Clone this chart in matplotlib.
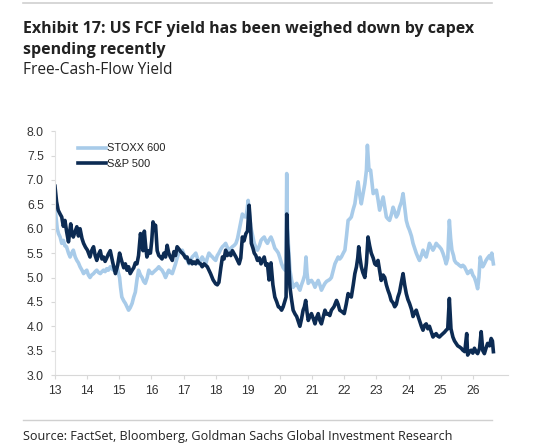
import numpy as np
import matplotlib.pyplot as plt

# S&P 500 free-cash-flow yield (years as 13 = 2013)
sp_years = [13.00, 13.05, 13.10, 13.16, 13.21, 13.26, 13.31, 13.36, 13.42, 13.49, 13.53, 13.57, 13.63, 13.68,
            13.73, 13.78, 13.84, 13.89, 13.95, 14.01, 14.09, 14.14, 14.20, 14.25, 14.30, 14.36, 14.41, 14.46,
            14.51, 14.56, 14.61, 14.66, 14.72, 14.80, 14.88, 14.95, 15.01, 15.07, 15.14, 15.19, 15.24, 15.29,
            15.34, 15.40, 15.45, 15.50, 15.55, 15.60, 15.66, 15.70, 15.74, 15.78, 15.82, 15.86, 15.92, 15.97,
            16.01, 16.05, 16.09, 16.13, 16.18, 16.23, 16.28, 16.33, 16.39, 16.44, 16.49, 16.54, 16.59, 16.65,
            16.70, 16.75, 16.80, 16.86, 16.91, 16.96, 17.01, 17.06, 17.11, 17.17, 17.22, 17.27, 17.32, 17.38,
            17.43, 17.48, 17.53, 17.58, 17.64, 17.69, 17.74, 17.79, 17.84, 17.92, 18.00, 18.05, 18.10, 18.16,
            18.21, 18.26, 18.31, 18.36, 18.42, 18.47, 18.52, 18.58, 18.63, 18.68, 18.73, 18.78, 18.83, 18.88,
            18.94, 18.99, 19.04, 19.08, 19.11, 19.16, 19.20, 19.25, 19.30, 19.36, 19.41, 19.46, 19.51, 19.56,
            19.61, 19.66, 19.72, 19.78, 19.84, 19.90, 19.95, 20.00, 20.05, 20.10, 20.16, 20.19, 20.21, 20.24,
            20.26, 20.31, 20.36, 20.41, 20.47, 20.52, 20.57, 20.62, 20.67, 20.72, 20.76, 20.80, 20.84, 20.88,
            20.93, 20.98, 21.04, 21.09, 21.14, 21.19, 21.24, 21.29, 21.35, 21.40, 21.45, 21.50, 21.55, 21.60,
            21.68, 21.76, 21.81, 21.86, 21.93, 22.00, 22.06, 22.12, 22.17, 22.22, 22.28, 22.33, 22.38, 22.42,
            22.45, 22.49, 22.53, 22.58, 22.64, 22.69, 22.74, 22.79, 22.84, 22.90, 22.95, 23.00, 23.05, 23.10,
            23.15, 23.21, 23.26, 23.31, 23.36, 23.41, 23.46, 23.52, 23.57, 23.62, 23.67, 23.72, 23.77, 23.83,
            23.88, 23.93, 23.98, 24.03, 24.09, 24.14, 24.19, 24.24, 24.29, 24.34, 24.40, 24.45, 24.50, 24.55,
            24.60, 24.65, 24.71, 24.76, 24.81, 24.86, 24.91, 24.96, 25.02, 25.07, 25.12, 25.17, 25.22, 25.27,
            25.32, 25.38, 25.43, 25.48, 25.53, 25.58, 25.64, 25.69, 25.75, 25.81, 25.84, 25.90, 25.95, 26.00,
            26.05, 26.10, 26.15, 26.21, 26.26, 26.31, 26.36, 26.41, 26.46, 26.52, 26.57, 26.61, 26.64]
sp_vals = [6.87, 6.55, 6.38, 6.30, 6.24, 6.05, 6.17, 5.95, 5.73, 6.10, 5.90, 5.83, 5.95, 6.04,
           5.85, 6.00, 5.80, 5.70, 5.62, 5.56, 5.42, 5.55, 5.63, 5.45, 5.35, 5.48, 5.55, 5.38,
           5.42, 5.33, 5.40, 5.48, 5.55, 5.30, 5.08, 5.25, 5.50, 5.35, 5.20, 5.28, 5.15, 5.22,
           5.08, 5.15, 5.20, 5.30, 5.28, 5.45, 5.90, 5.70, 5.55, 5.95, 5.65, 5.42, 5.55, 5.50,
           5.75, 6.14, 6.05, 6.07, 5.55, 5.45, 5.42, 5.38, 5.50, 5.42, 5.66, 5.50, 5.42, 5.35,
           5.53, 5.45, 5.63, 5.58, 5.53, 5.50, 5.46, 5.40, 5.42, 5.30, 5.35, 5.28, 5.32, 5.28,
           5.35, 5.30, 5.28, 5.22, 5.28, 5.25, 5.22, 5.15, 5.08, 4.95, 4.87, 4.85, 4.90, 5.20,
           5.42, 5.38, 5.56, 5.45, 5.50, 5.45, 5.55, 5.48, 5.42, 5.35, 5.28, 5.40, 5.83, 5.75,
           5.90, 5.95, 6.48, 6.10, 5.70, 5.60, 5.50, 5.45, 5.35, 5.40, 5.28, 5.35, 5.42, 5.25,
           5.28, 4.95, 5.30, 4.85, 4.60, 4.50, 4.40, 4.38, 4.33, 4.40, 4.53, 4.60, 6.30, 5.70,
           5.50, 4.80, 4.55, 4.33, 4.25, 4.20, 4.10, 4.00, 4.15, 4.33, 4.40, 4.53, 4.30, 4.12,
           4.20, 4.26, 4.15, 4.05, 4.18, 4.26, 4.12, 4.05, 4.20, 4.33, 4.25, 4.26, 4.22, 4.33,
           4.40, 4.53, 4.45, 4.33, 4.30, 4.26, 4.45, 4.67, 4.62, 4.60, 4.85, 5.08, 5.22, 5.40,
           5.63, 5.40, 5.22, 5.10, 5.00, 5.30, 5.83, 5.65, 5.50, 5.40, 5.28, 5.25, 5.35, 5.15,
           4.94, 5.05, 5.00, 4.85, 4.74, 4.65, 4.53, 4.48, 4.40, 4.45, 4.60, 4.70, 4.88, 5.08,
           4.85, 4.67, 4.55, 4.47, 4.35, 4.20, 4.28, 4.33, 4.22, 4.12, 4.00, 3.92, 4.02, 4.05,
           3.95, 4.00, 3.88, 3.78, 3.82, 3.85, 3.80, 3.78, 3.82, 3.85, 3.88, 3.92, 3.95, 4.57,
           3.95, 3.78, 3.70, 3.65, 3.60, 3.58, 3.55, 3.51, 3.48, 3.85, 3.41, 3.48, 3.51, 3.45,
           3.55, 3.48, 3.44, 3.55, 3.89, 3.50, 3.44, 3.55, 3.65, 3.60, 3.75, 3.70, 3.48]

# STOXX 600 free-cash-flow yield
stoxx_years = [13.00, 13.04, 13.07, 13.11, 13.16, 13.21, 13.26, 13.31, 13.36, 13.42, 13.47, 13.52, 13.57, 13.63,
               13.68, 13.73, 13.78, 13.84, 13.89, 13.94, 13.99, 14.04, 14.09, 14.14, 14.20, 14.25, 14.30, 14.36,
               14.41, 14.46, 14.51, 14.56, 14.61, 14.66, 14.72, 14.77, 14.82, 14.88, 14.93, 14.97, 15.01, 15.04,
               15.08, 15.14, 15.19, 15.24, 15.29, 15.34, 15.40, 15.45, 15.50, 15.55, 15.60, 15.66, 15.71, 15.76,
               15.81, 15.87, 15.92, 15.97, 16.02, 16.08, 16.13, 16.18, 16.23, 16.28, 16.33, 16.39, 16.44, 16.49,
               16.54, 16.60, 16.65, 16.70, 16.75, 16.80, 16.85, 16.91, 16.96, 17.01, 17.06, 17.12, 17.17, 17.22,
               17.27, 17.33, 17.38, 17.43, 17.48, 17.53, 17.58, 17.64, 17.69, 17.74, 17.79, 17.85, 17.90, 17.95,
               18.00, 18.05, 18.10, 18.16, 18.21, 18.26, 18.31, 18.36, 18.42, 18.47, 18.52, 18.58, 18.63, 18.68,
               18.73, 18.78, 18.83, 18.88, 18.94, 18.98, 19.01, 19.05, 19.09, 19.15, 19.20, 19.25, 19.30, 19.36,
               19.41, 19.46, 19.51, 19.56, 19.61, 19.67, 19.72, 19.77, 19.84, 19.90, 19.95, 20.00, 20.05, 20.10,
               20.16, 20.19, 20.21, 20.23, 20.26, 20.31, 20.36, 20.41, 20.47, 20.52, 20.57, 20.62, 20.67, 20.72,
               20.77, 20.81, 20.84, 20.88, 20.93, 20.98, 21.04, 21.09, 21.14, 21.19, 21.24, 21.29, 21.35, 21.40,
               21.45, 21.50, 21.55, 21.60, 21.66, 21.71, 21.76, 21.81, 21.86, 21.91, 21.97, 22.02, 22.07, 22.12,
               22.17, 22.22, 22.28, 22.33, 22.38, 22.43, 22.48, 22.53, 22.58, 22.64, 22.69, 22.72, 22.74, 22.77,
               22.82, 22.86, 22.90, 22.95, 23.00, 23.05, 23.10, 23.15, 23.21, 23.26, 23.31, 23.36, 23.41, 23.47,
               23.52, 23.57, 23.62, 23.67, 23.72, 23.78, 23.83, 23.88, 23.93, 23.98, 24.03, 24.09, 24.14, 24.19,
               24.24, 24.29, 24.34, 24.40, 24.45, 24.50, 24.55, 24.60, 24.65, 24.71, 24.76, 24.81, 24.86, 24.91,
               24.96, 25.02, 25.07, 25.12, 25.17, 25.22, 25.27, 25.31, 25.35, 25.40, 25.43, 25.48, 25.53, 25.58,
               25.64, 25.69, 25.74, 25.79, 25.84, 25.90, 25.95, 26.00, 26.05, 26.10, 26.15, 26.19, 26.23, 26.27,
               26.31, 26.36, 26.41, 26.46, 26.52, 26.56, 26.59, 26.64]
stoxx_vals = [6.44, 6.20, 6.00, 5.90, 5.83, 5.70, 5.76, 5.65, 5.63, 5.50, 5.42, 5.50, 5.56, 5.42,
              5.35, 5.30, 5.22, 5.15, 5.08, 5.12, 5.15, 5.05, 5.00, 5.05, 5.08, 5.12, 5.15, 5.10,
              5.08, 5.12, 5.15, 5.12, 5.18, 5.15, 5.22, 5.18, 5.15, 5.18, 5.22, 5.10, 5.00, 4.80,
              4.60, 4.52, 4.47, 4.40, 4.33, 4.38, 4.47, 4.60, 4.70, 4.95, 5.15, 5.05, 5.00, 4.92,
              4.88, 5.00, 5.15, 5.10, 5.08, 5.12, 5.15, 5.18, 5.22, 5.18, 5.15, 5.08, 5.00, 5.08,
              5.15, 5.10, 5.08, 5.18, 5.28, 5.40, 5.50, 5.52, 5.56, 5.48, 5.42, 5.35, 5.28, 5.35,
              5.42, 5.46, 5.50, 5.40, 5.28, 5.35, 5.42, 5.35, 5.28, 5.40, 5.50, 5.45, 5.42, 5.38,
              5.35, 5.45, 5.50, 5.58, 5.63, 5.66, 5.70, 5.62, 5.56, 5.60, 5.63, 5.66, 5.70, 5.80,
              5.97, 6.15, 6.30, 6.25, 6.24, 6.40, 6.58, 6.30, 6.04, 5.85, 5.70, 5.62, 5.56, 5.65,
              5.76, 5.80, 5.83, 5.75, 5.70, 5.78, 5.83, 5.75, 5.60, 5.55, 5.50, 5.40, 5.28, 5.20,
              5.15, 5.30, 7.13, 6.20, 5.70, 5.15, 4.95, 4.80, 4.85, 4.88, 4.80, 4.74, 4.85, 4.94,
              5.05, 5.42, 5.10, 4.88, 4.92, 4.94, 4.88, 4.80, 4.88, 4.94, 4.85, 4.74, 4.82, 4.88,
              4.92, 4.94, 4.96, 5.00, 5.15, 5.28, 5.35, 5.42, 5.38, 5.42, 5.50, 5.56, 5.85, 6.17,
              6.20, 6.24, 6.40, 6.51, 6.75, 6.96, 6.70, 6.51, 6.70, 6.92, 7.20, 7.71, 7.50, 7.20,
              7.20, 6.95, 6.72, 6.75, 6.79, 6.60, 6.38, 6.50, 6.65, 6.45, 6.24, 6.20, 6.17, 6.30,
              6.44, 6.35, 6.24, 6.30, 6.44, 6.55, 6.72, 6.45, 6.17, 6.05, 5.97, 5.85, 5.70, 5.60,
              5.50, 5.42, 5.35, 5.45, 5.56, 5.48, 5.42, 5.55, 5.70, 5.62, 5.56, 5.62, 5.70, 5.66,
              5.63, 5.58, 5.50, 5.40, 5.28, 5.40, 6.17, 5.80, 5.56, 5.45, 5.35, 5.30, 5.28, 5.25,
              5.22, 5.25, 5.22, 5.15, 5.08, 5.12, 5.15, 5.05, 5.00, 4.90, 4.77, 5.00, 5.42, 5.30,
              5.22, 5.28, 5.35, 5.40, 5.45, 5.38, 5.50, 5.28]

x_ticks = list(range(13, 27))
y_ticks = [3.0, 3.5, 4.0, 4.5, 5.0, 5.5, 6.0, 6.5, 7.0, 7.5, 8.0]

light_blue = '#a8cbe9'
dark_blue = '#0c2b53'

fig = plt.figure(figsize=(5.52, 4.46), dpi=100)
ax = fig.add_axes([0.0996, 0.159, 0.821, 0.547])

ax.plot(stoxx_years, stoxx_vals, color=light_blue, lw=2.6, label='STOXX 600', solid_joinstyle='round')
ax.plot(sp_years, sp_vals, color=dark_blue, lw=2.6, label='S&P 500', solid_joinstyle='round')

ax.set_xlim(13, 27.1)
ax.set_ylim(3.0, 8.0)
ax.set_xticks(x_ticks)
ax.set_xticklabels([str(t) for t in x_ticks])
ax.set_yticks(y_ticks)
ax.set_yticklabels(['%.1f' % t for t in y_ticks])

for side in ['top', 'right']:
    ax.spines[side].set_visible(False)
ax.spines['left'].set_color('#e2e2e2')
ax.spines['bottom'].set_color('#d8d8d8')
ax.tick_params(axis='both', colors='#d8d8d8', labelcolor='#333333', labelsize=8.8, length=3, width=0.8)
ax.tick_params(axis='x', pad=4)
ax.tick_params(axis='y', pad=5)
for lbl in ax.get_xticklabels() + ax.get_yticklabels():
    lbl.set_family('Liberation Sans')

leg = ax.legend(loc='upper left', bbox_to_anchor=(0.03, 0.99), frameon=False, handlelength=2.5,
                handletextpad=0.1, labelspacing=0.5, prop={'family': 'Liberation Sans', 'size': 7.9})
for t in leg.get_texts():
    t.set_color('#222222')

# rules and header / footer text
fig.add_artist(plt.Line2D([0.042, 0.892], [0.993, 0.993], color='#d0d0d0', lw=1.2))
fig.add_artist(plt.Line2D([0.042, 0.892], [0.058, 0.058], color='#d0d0d0', lw=1.0))
fig.text(0.042, 0.927, 'Exhibit 17: US FCF yield has been weighed down by capex',
         fontsize=11.55, fontweight='bold', family='Open Sans', color='#222222', va='baseline')
fig.text(0.042, 0.878, 'spending recently',
         fontsize=11.55, fontweight='bold', family='Open Sans', color='#222222', va='baseline')
fig.text(0.042, 0.834, 'Free-Cash-Flow Yield',
         fontsize=11.2, family='Open Sans', color='#222222', va='baseline')
fig.text(0.042, 0.014, 'Source: FactSet, Bloomberg, Goldman Sachs Global Investment Research',
         fontsize=9.1, family='Open Sans', color='#222222', va='baseline')

fig.savefig('out.png', dpi=100)
